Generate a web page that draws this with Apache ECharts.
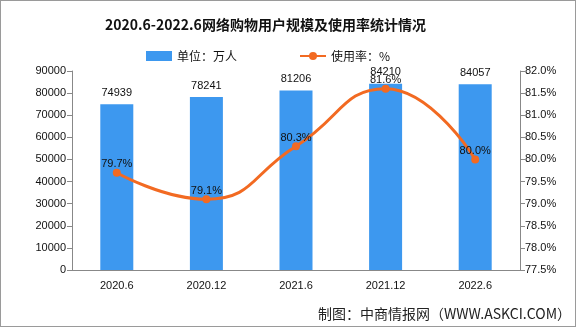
<!DOCTYPE html>
<html>
<head>
<meta charset="utf-8">
<script src="https://cdn.jsdelivr.net/npm/echarts@6/dist/echarts.min.js"></script>
<style>
  html, body { margin: 0; padding: 0; background: #fff; }
  #chart { width: 574px; height: 325px; border: 1px solid #9a9a9a; }
</style>
</head>
<body>
<div id="chart"></div>
<script>
// Online shopping users (10k persons) and usage rate (%), 2020.6 - 2022.6
const periods = ['2020.6', '2020.12', '2021.6', '2021.12', '2022.6'];
const users = [74939, 78241, 81206, 84210, 84057];
const usageRate = [79.7, 79.1, 80.3, 81.6, 80.0];

const barColor = '#3d98ef';
const lineColor = '#f26a22';
const tickFont = 'Liberation Sans';

const chart = echarts.init(document.getElementById('chart'));
chart.setOption({
  animation: false,
  title: {
    text: '2020.6-2022.6网络购物用户规模及使用率统计情况',
    left: 99,
    top: 12,
    textStyle: { fontFamily: 'Noto Sans CJK SC', fontSize: 14, fontWeight: 'bold', color: '#111' }
  },
  legend: {
    top: 44,
    left: 140,
    itemGap: 62,
    itemWidth: 26,
    itemHeight: 10,
    textStyle: { fontFamily: 'Noto Sans CJK SC', fontSize: 12, color: '#111' },
    data: [
      { name: '单位：万人', icon: 'rect' },
      { name: '使用率：%' }
    ]
  },
  grid: { left: 71, right: 55, top: 70, bottom: 56 },
  xAxis: {
    type: 'category',
    data: periods,
    axisLine: { lineStyle: { color: '#888' } },
    axisTick: { lineStyle: { color: '#888' } },
    axisLabel: { fontFamily: tickFont, fontSize: 11, color: '#111', margin: 10 }
  },
  yAxis: [
    {
      type: 'value', min: 0, max: 90000, interval: 10000,
      axisLine: { show: true, lineStyle: { color: '#888' } },
      axisTick: { show: true, lineStyle: { color: '#888' } },
      splitLine: { show: false },
      axisLabel: {
        fontFamily: tickFont, fontSize: 11, color: '#111', margin: 6,
        formatter: v => String(v)
      }
    },
    {
      type: 'value', min: 77.5, max: 82, interval: 0.5,
      axisLine: { show: true, lineStyle: { color: '#888' } },
      axisTick: { show: true, lineStyle: { color: '#888' } },
      splitLine: { show: false },
      axisLabel: {
        fontFamily: tickFont, fontSize: 11, color: '#111', margin: 5,
        formatter: v => v.toFixed(1) + '%'
      }
    }
  ],
  series: [
    {
      name: '单位：万人',
      type: 'bar',
      data: users,
      barWidth: 33,
      itemStyle: { color: barColor },
      label: {
        show: true, position: 'top', distance: 6,
        fontFamily: tickFont, fontSize: 11, color: '#111'
      }
    },
    {
      name: '使用率：%',
      type: 'line',
      yAxisIndex: 1,
      data: usageRate,
      smooth: 0.5,
      symbol: 'circle',
      symbolSize: 8,
      lineStyle: { color: lineColor, width: 3 },
      itemStyle: { color: lineColor },
      label: {
        show: true, position: 'top', offset: [0, 6],
        fontFamily: tickFont, fontSize: 11, color: '#111',
        formatter: p => p.value.toFixed(1) + '%'
      }
    }
  ],
  graphic: [
    {
      type: 'text', right: 4, bottom: 5,
      style: {
        text: '制图：中商情报网（WWW.ASKCI.COM）',
        font: '14px "Noto Sans CJK SC"', fill: '#222'
      }
    }
  ]
});
</script>
</body>
</html>
